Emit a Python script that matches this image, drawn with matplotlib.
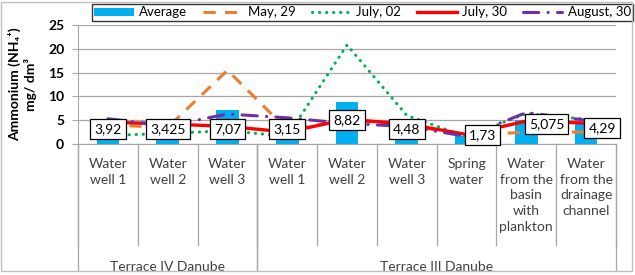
import matplotlib.pyplot as plt
from matplotlib.patches import Rectangle
import numpy as np

plt.rcParams['font.family'] = ['Lato', 'DejaVu Sans']

# categories and groups
categories = ['Water\nwell 1', 'Water\nwell 2', 'Water\nwell 3',
              'Water\nwell 1', 'Water\nwell 2', 'Water\nwell 3',
              'Spring\nwater', 'Water\nfrom the\nbasin\nwith\nplankton',
              'Water\nfrom the\ndrainage\nchannel']
groups = ['Terrace IV Danube', 'Terrace III Danube']
group_sizes = [3, 6]

# series values (mg/dm3)
average = [3.92, 3.425, 7.07, 3.15, 8.82, 4.48, 1.73, 5.075, 4.29]
average_labels = ['3,92', '3,425', '7,07', '3,15', '8,82', '4,48', '1,73', '5,075', '4,29']
may_29 = [4.0, 3.5, 15.5, 3.0, 5.0, 4.0, 1.8, 2.5, 2.5]
july_02 = [1.8, 2.2, 2.8, 1.6, 20.8, 6.0, 1.5, 6.4, 5.2]
july_30 = [4.6, 4.2, 3.7, 2.5, 5.2, 4.2, 2.0, 4.8, 4.4]
august_30 = [5.3, 3.8, 6.3, 5.5, 4.3, 3.7, 1.6, 6.6, 5.0]

# where the data label boxes sit (moved by hand in the original)
label_dx = [0, 0, 0, 0, 0, 0, 0.27, 0.34, 0.27]
label_y = [3.2, 3.2, 3.2, 3.2, 5.1, 3.2, 1.9, 4.2, 3.4]

x = np.arange(len(categories))

fig = plt.figure(figsize=(6.35, 2.75), dpi=100)
ax = fig.add_axes([0.123, 0.4764, 0.847, 0.4327])

bars = ax.bar(x, average, width=0.38, color='#00B0F0', label='Average', zorder=2)
l1, = ax.plot(x, may_29, color='#ED7D31', lw=2.2, linestyle=(0, (4, 3)), label='May, 29', zorder=3)
l2, = ax.plot(x, july_02, color='#00B050', lw=2.2, linestyle=(0, (0.1, 2.2)),
              dash_capstyle='round', label='July, 02', zorder=3)
l3, = ax.plot(x, july_30, color='#FF0000', lw=2.4, label='July, 30', zorder=3)
l4, = ax.plot(x, august_30, color='#7030A0', lw=2.2, linestyle=(0, (5, 3, 0.1, 3)),
              dash_capstyle='round', label='August, 30', zorder=3)

for i in range(len(x)):
    ax.text(x[i] + label_dx[i], label_y[i], average_labels[i], ha='center', va='center',
            fontsize=10, zorder=5, clip_on=False,
            bbox=dict(boxstyle='square,pad=0.3', fc='white', ec='black', lw=0.9))

ax.set_xlim(-0.5, len(x) - 0.5)
ax.set_ylim(0, 25)
ax.set_yticks([0, 5, 10, 15, 20, 25])
ax.set_yticklabels(['0', '5', '10', '15', '20', '25'], fontweight='bold', fontsize=10)
ax.tick_params(axis='y', length=4, color='#a6a6a6', pad=6)
ax.set_xticks([])
ax.grid(axis='y', color='#a6a6a6', lw=0.9, zorder=0)
for s in ['top', 'right']:
    ax.spines[s].set_visible(False)
ax.spines['left'].set_color('#a6a6a6')
ax.spines['bottom'].set_color('#a6a6a6')
ax.set_ylabel('Ammonium (NH₄⁺)\nmg/ dm³', fontweight='bold', fontsize=10,
              linespacing=1.25, labelpad=8)

# two-level category axis
tr = ax.get_xaxis_transform()
for i, lab in enumerate(categories):
    ax.text(x[i], -0.118, lab, transform=tr, ha='center', va='top', fontsize=10,
            linespacing=1.37, color='#404040')
for b in np.arange(len(x) + 1) - 0.5:
    ax.plot([b, b], [0, -0.849], transform=tr, color='#a6a6a6', lw=0.9, clip_on=False)
start = 0
for g, n in zip(groups, group_sizes):
    for b in [start - 0.5, start + n - 0.5]:
        ax.plot([b, b], [0, -1.07], transform=tr, color='#a6a6a6', lw=0.9, clip_on=False)
    ax.text(start + (n - 1) / 2, -1.034, g, transform=tr, ha='center', va='center',
            fontsize=10, color='#404040')
    start += n

# cover below the chart border so group titles are cut like the original
fig.add_artist(Rectangle((0, 0), 1, 0.0145, transform=fig.transFigure,
                         fc='white', ec='none', zorder=10))
fig.add_artist(Rectangle((0.002, 0.0145), 0.993, 0.98, transform=fig.transFigure,
                         fill=False, ec='#bfbfbf', lw=1, zorder=11))

leg = fig.legend([bars, l1, l2, l3, l4], ['Average', 'May, 29', 'July, 02', 'July, 30', 'August, 30'],
                 loc='center', bbox_to_anchor=(0.571, 0.955), ncol=5, fontsize=9.5,
                 frameon=True, fancybox=False, edgecolor='black', handlelength=3.0,
                 handleheight=0.6, columnspacing=1.2, handletextpad=0.4, borderpad=0.2)
leg.get_frame().set_linewidth(1.0)

fig.savefig('out.png', dpi=100)
